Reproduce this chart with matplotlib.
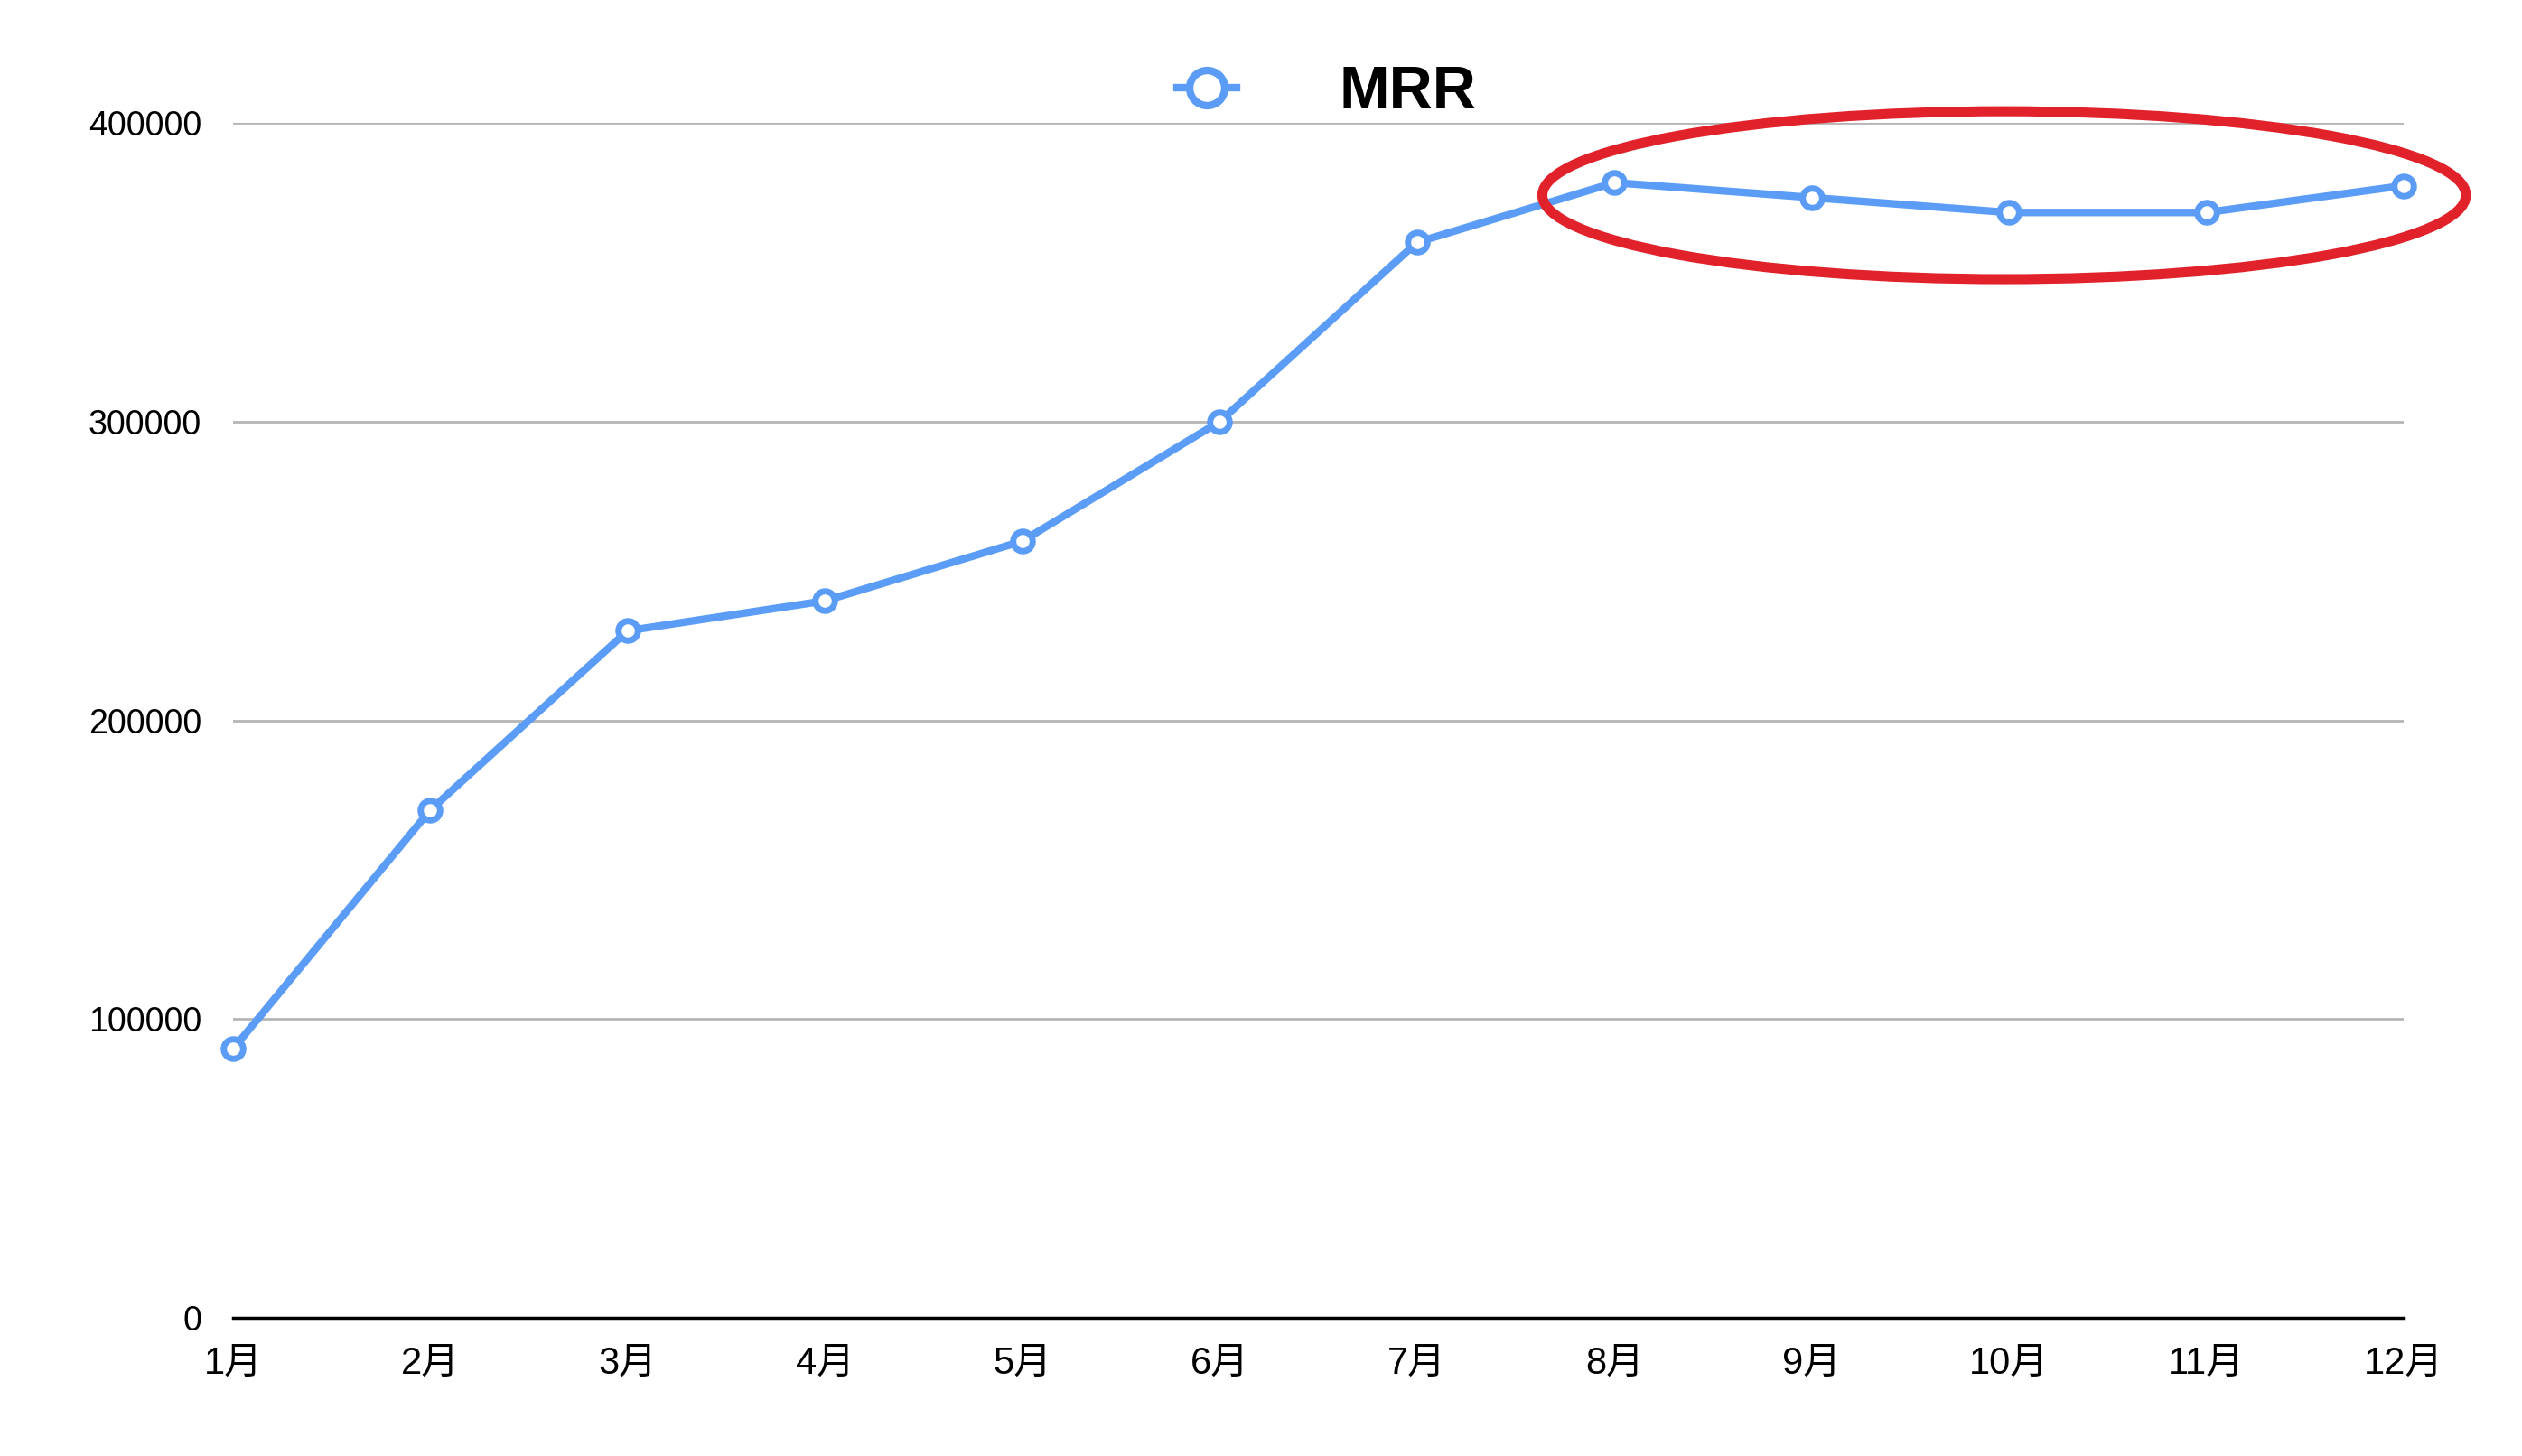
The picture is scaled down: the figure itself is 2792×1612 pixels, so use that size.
import matplotlib
matplotlib.use("Agg")
import matplotlib.pyplot as plt
from matplotlib.lines import Line2D
from matplotlib.patches import Ellipse

plt.rcParams['font.family'] = ['Liberation Sans', 'Noto Sans CJK JP', 'DejaVu Sans']

# data
months = ['1月', '2月', '3月', '4月', '5月', '6月', '7月', '8月', '9月', '10月', '11月', '12月']
mrr = [90000, 170000, 230000, 240000, 260000, 300000, 360000,
       380000, 375000, 370000, 370000, 379000]
yticks = [0, 100000, 200000, 300000, 400000]

blue = '#5B9CF6'
red = '#E2222B'

fig = plt.figure(figsize=(27.92, 16.12), dpi=100)
ax = fig.add_axes([0.0924, 0.0949, 0.8607, 0.8207])

x = list(range(len(months)))
ax.plot(x, mrr, color=blue, lw=6, marker='o', markersize=15.5,
        markeredgewidth=5, markerfacecolor='white', markeredgecolor=blue,
        zorder=3, clip_on=False)

ax.set_xlim(0, len(months) - 1)
ax.set_ylim(0, 400000)
ax.set_xticks(x)
ax.set_xticklabels(months, fontsize=30)
ax.set_yticks(yticks)
ax.set_yticklabels([str(v) for v in yticks], fontsize=27)
ax.tick_params(axis='both', length=0)
ax.tick_params(axis='y', pad=25)
ax.tick_params(axis='x', pad=22)

ax.grid(axis='y', color='#b5b5b5', lw=2)
ax.grid(axis='x', visible=False)
for s in ['top', 'right', 'left']:
    ax.spines[s].set_visible(False)
ax.spines['bottom'].set_color('black')
ax.spines['bottom'].set_linewidth(2.5)
ax.spines['bottom'].set_zorder(4)

# red highlight around the plateau
ell = Ellipse((8.975, 375800), 4.68, 56200, fill=False, ec=red, lw=8,
              clip_on=False, zorder=5)
ax.add_patch(ell)

handle = Line2D([], [], color=blue, lw=6, marker='o', markersize=28,
                markeredgewidth=6, markerfacecolor='white', markeredgecolor=blue)
fig.legend(handles=[handle], labels=['MRR'], loc='center',
           bbox_to_anchor=(0.526, 0.936), frameon=False, borderpad=0,
           handlelength=1.0, handletextpad=1.7,
           prop={'size': 48, 'weight': 'bold'})

fig.savefig('out.png', dpi=100, facecolor='white')
